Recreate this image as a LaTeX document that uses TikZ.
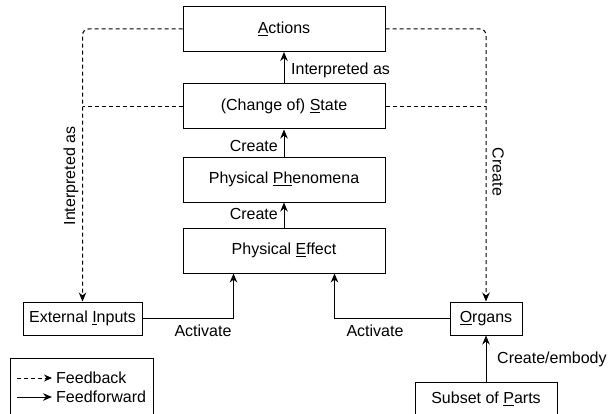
\documentclass[tikz,border=0pt]{standalone}
\usepackage{fontspec}
\setmainfont{Liberation Sans}
\usetikzlibrary{arrows.meta}
\begin{document}
\begin{tikzpicture}[x=1pt,y=-1pt,
  every node/.style={font=\fontsize{16}{19}\selectfont, text=black},
  box/.style={draw=black, line width=1pt, minimum width=202pt, minimum height=45pt, inner sep=0pt},
  sbox/.style={draw=black, line width=1pt, inner sep=0pt},
  lbl/.style={inner sep=1pt},
  ff/.style={line width=1pt, -{Stealth[length=9pt,width=7.5pt]}},
  fb/.style={line width=1pt, dash pattern=on 4pt off 3pt, rounded corners=6pt, -{Stealth[length=9pt,width=7.5pt]}},
  fbl/.style={line width=1pt, dash pattern=on 4pt off 3pt}]
\useasboundingbox (0,0) rectangle (609,414);
\node[box] (actions) at (284,29) {\underline{A}ctions};
\node[box] (state) at (284,106.5) {(Change of) \underline{S}tate};
\node[box] (phen) at (284,179.5) {Physical \underline{Ph}enomena};
\node[box] (effect) at (284,250.5) {Physical \underline{E}ffect};
\node[sbox, minimum width=119pt, minimum height=33pt] (ext) at (82.5,318.5) {External \underline{I}nputs};
\node[sbox, minimum width=72pt, minimum height=33pt] (organs) at (486,318.5) {\underline{O}rgans};
\node[sbox, minimum width=142pt, minimum height=34pt] (parts) at (486,399) {Subset of \underline{P}arts};
\node[sbox, minimum width=143pt, minimum height=58pt] (legend) at (81.5,387) {};
% feedforward
\draw[ff] (effect.north) -- (phen.south);
\draw[ff] (phen.north) -- (state.south);
\draw[ff] (state.north) -- (actions.south);
\draw[ff] (ext.east) -| ([xshift=-50.5pt]effect.south);
\draw[ff] (organs.west) -| ([xshift=50.5pt]effect.south);
\draw[ff] (parts.north) -- (organs.south);
% feedback
\draw[fb] (actions.west) -| (ext.north);
\draw[fbl] (state.west) -- (state.west -| ext.north);
\draw[fb] (actions.east) -| (organs.north);
\draw[fbl] (state.east) -- (state.east -| organs.north);
% labels
\node[lbl, anchor=west] (l1) at (290,70) {Interpreted as};
\node[lbl, anchor=east] (l2) at (279,146) {Create};
\node[lbl, anchor=east] (l3) at (279,214) {Create};
\node[lbl] (l4) at (203,331) {Activate};
\node[lbl] (l5) at (375,331) {Activate};
\node[lbl, anchor=west] (l6) at (496,359) {Create/embody};
\node[lbl, rotate=90] (l7) at (71,176) {Interpreted as};
\node[lbl, rotate=-90] (l8) at (498,172) {Create};
% legend
\coordinate (fbs) at (17,378);
\coordinate (ffs) at (17,397);
\node[lbl, anchor=west] (fbt) at (55,378) {Feedback};
\node[lbl, anchor=west] (fft) at (55,397) {Feedforward};
\draw[fbl, -{Stealth[length=8pt,width=7pt]}] (fbs) -- ([xshift=-3pt]fbt.west);
\draw[ff] (ffs) -- ([xshift=-3pt]fft.west);
\end{tikzpicture}
\end{document}
